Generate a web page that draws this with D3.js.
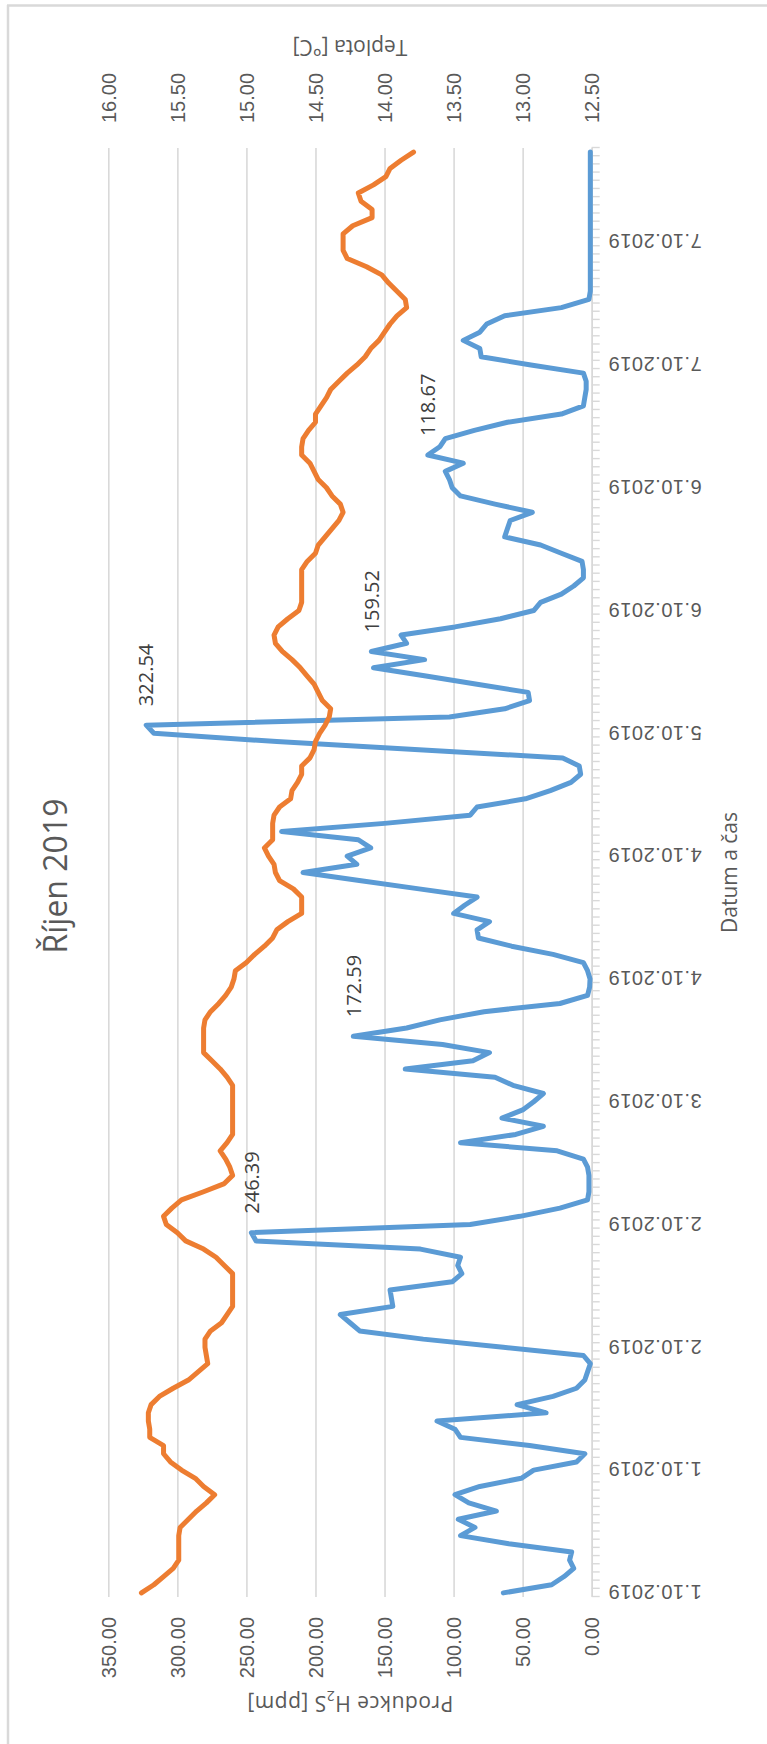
<!DOCTYPE html>
<html>
<head>
<meta charset="utf-8">
<script src="https://cdn.jsdelivr.net/npm/d3@7"></script>
<style>
  html, body { margin: 0; padding: 0; background: #fff; }
  svg { display: block; font-family: "Open Sans", "Noto Sans", sans-serif; }
</style>
</head>
<body>
<svg id="chart" width="767" height="1744"></svg>
<script>
// H2S production [ppm], one value per reading
const h2s = [
  64, 29, 20, 13, 16, 14.5, 60, 95, 84.5, 96.6,
  69, 89, 99, 81, 51, 42, 11, 5, 45, 95,
  99, 112, 33, 54, 28, 11, 5, 3, 1, 6,
  64, 122, 168, 175, 182, 144, 145, 146, 101, 94,
  97, 95, 124, 243, 246.39, 88, 52, 23, 3, 2,
  2, 2, 3, 6, 25, 95, 55, 35, 65, 50,
  42, 35, 57, 70, 135, 86, 74, 108, 172.59, 134,
  110, 78, 23, 3, 1.5, 1.2, 3, 6, 28, 58,
  82, 83, 74, 100, 92, 83, 125, 167, 209, 170,
  177, 160, 169, 224.5, 150, 88, 83, 48, 30, 15,
  8, 9, 21, 125, 228, 317, 322.54, 103, 63, 45,
  46, 83, 120, 158, 121, 159.52, 134, 138, 99, 66,
  42, 37, 22, 13, 6, 6, 7, 22, 37, 63,
  61, 59, 43, 70, 95, 101, 103, 106, 93, 118.67,
  110, 106, 85, 61, 22, 6, 5, 4, 4, 6,
  44, 80, 81, 93, 81, 76, 63, 22, 2, 1,
  1, 1, 1, 1, 1, 1, 1, 1, 1, 1,
  1, 1, 1, 1, 1, 1, 1
];

// temperature [°C]
const teplota = [
  15.76, 15.67, 15.60, 15.53, 15.49, 15.49, 15.49, 15.49, 15.48, 15.42,
  15.36, 15.29, 15.23, 15.31, 15.37, 15.47, 15.55, 15.60, 15.60, 15.70,
  15.70, 15.71, 15.71, 15.69, 15.63, 15.53, 15.42, 15.35, 15.28, 15.29,
  15.30, 15.30, 15.26, 15.18, 15.14, 15.10, 15.10, 15.10, 15.10, 15.10,
  15.16, 15.22, 15.31, 15.44, 15.50, 15.58, 15.60, 15.54, 15.47, 15.31,
  15.16, 15.10, 15.12, 15.15, 15.19, 15.14, 15.10, 15.10, 15.10, 15.10,
  15.10, 15.10, 15.10, 15.14, 15.19, 15.25, 15.31, 15.31, 15.31, 15.31,
  15.30, 15.26, 15.20, 15.15, 15.11, 15.09, 15.08, 15.00, 14.94, 14.87,
  14.81, 14.78, 14.70, 14.60, 14.60, 14.60, 14.66, 14.76, 14.79, 14.80,
  14.84, 14.87, 14.81, 14.81, 14.81, 14.80, 14.76, 14.68, 14.67, 14.63,
  14.60, 14.60, 14.54, 14.51, 14.50, 14.47, 14.43, 14.40, 14.39, 14.45,
  14.48, 14.51, 14.56, 14.61, 14.67, 14.74, 14.79, 14.80, 14.77, 14.70,
  14.62, 14.60, 14.60, 14.60, 14.60, 14.60, 14.56, 14.50, 14.48, 14.43,
  14.38, 14.33, 14.30, 14.32, 14.38, 14.42, 14.48, 14.51, 14.54, 14.60,
  14.60, 14.59, 14.55, 14.50, 14.50, 14.46, 14.42, 14.39, 14.33, 14.27,
  14.20, 14.14, 14.10, 14.04, 14.00, 13.96, 13.91, 13.84, 13.85, 13.91,
  13.97, 14.02, 14.13, 14.27, 14.30, 14.30, 14.30, 14.23, 14.09, 14.09,
  14.17, 14.19, 14.08, 13.99, 13.96, 13.88, 13.79
];

// category labels, shown on every 15th reading
const dateLabels = [
  '1.10.2019', '1.10.2019', '2.10.2019', '2.10.2019', '3.10.2019', '4.10.2019',
  '4.10.2019', '5.10.2019', '6.10.2019', '6.10.2019', '7.10.2019', '7.10.2019'
];
const labelEvery = 15;
const h2sTicks = [0, 50, 100, 150, 200, 250, 300, 350];
const tempTicks = [12.5, 13, 13.5, 14, 14.5, 15, 15.5, 16];
// readings that carry a value label
const labelled = [44, 68, 106, 115, 139];

const n = h2s.length;
const cats = d3.range(n);

// the chart is laid out landscape (1744 x 767) and turned a quarter left
const W = 1744;
const plot = { left: 147, right: 1596, top: 108.3, bottom: 591.7 };
const textCol = '#595959';

const svg = d3.select('#chart');
svg.append('line').attr('x1', 7).attr('x2', 767).attr('y1', 5.5).attr('y2', 5.5)
  .attr('stroke', '#d9d9d9').attr('stroke-width', 2.5);
svg.append('line').attr('x1', 8).attr('x2', 8).attr('y1', 5).attr('y2', 1744)
  .attr('stroke', '#d9d9d9').attr('stroke-width', 2.5);

const g = svg.append('g').attr('transform', `translate(0,${W}) rotate(-90)`);

const x = d3.scalePoint().domain(cats).range([plot.left, plot.right]).padding(0.5);
const xEdge = d3.scaleLinear().domain([0, n]).range([plot.left, plot.right]);
const yL = d3.scaleLinear().domain([0, 350]).range([plot.bottom, plot.top]);
const yR = d3.scaleLinear().domain([12.5, 16]).range([plot.bottom, plot.top]);

// gridlines
const grid = g.append('g').attr('transform', `translate(${plot.left},0)`)
  .call(d3.axisLeft(yL).tickValues(h2sTicks).tickSize(-(plot.right - plot.left)).tickFormat(''));
grid.select('.domain').remove();
grid.selectAll('line').attr('stroke', '#d9d9d9').attr('stroke-width', 1.6);

// left axis labels
const axL = g.append('g').attr('transform', `translate(${plot.left},0)`)
  .call(d3.axisLeft(yL).tickValues(h2sTicks).tickSize(0).tickPadding(20).tickFormat(d3.format('.2f')));
axL.select('.domain').remove();
axL.selectAll('text').attr('fill', textCol).style('font-size', '20px').attr('dy', '0.36em');

// right axis labels
const axR = g.append('g').attr('transform', `translate(${plot.right},0)`)
  .call(d3.axisRight(yR).tickValues(tempTicks).tickSize(0).tickPadding(25).tickFormat(d3.format('.2f')));
axR.select('.domain').remove();
axR.selectAll('text').attr('fill', textCol).style('font-size', '20px').attr('dy', '0.36em');

// category axis: a tick between every reading
const axTicks = g.append('g').attr('transform', `translate(0,${plot.bottom})`)
  .call(d3.axisBottom(xEdge).tickValues(d3.range(n + 1)).tickSize(8).tickSizeOuter(0).tickFormat(''));
axTicks.selectAll('line, path').attr('stroke', '#d9d9d9').attr('stroke-width', 1.4);

const axX = g.append('g').attr('transform', `translate(0,${plot.bottom})`)
  .call(d3.axisBottom(x)
    .tickValues(cats.filter(i => i % labelEvery === 0))
    .tickSize(0)
    .tickFormat(i => dateLabels[i / labelEvery]));
axX.select('.domain').remove();
axX.selectAll('text')
  .attr('fill', textCol).style('font-size', '20px').style('letter-spacing', '0.5px')
  .attr('y', 0).attr('dy', '0.36em')
  .attr('text-anchor', 'end')
  .attr('transform', 'translate(0,16.5) rotate(-90)');

// series
const lineH2s = d3.line().x((d, i) => x(i)).y(d => yL(d));
const lineTemp = d3.line().x((d, i) => x(i)).y(d => yR(d));

g.append('path').datum(h2s)
  .attr('d', lineH2s)
  .attr('fill', 'none').attr('stroke', '#5b9bd5').attr('stroke-width', 5)
  .attr('stroke-linejoin', 'round').attr('stroke-linecap', 'round');

g.append('path').datum(teplota)
  .attr('d', lineTemp)
  .attr('fill', 'none').attr('stroke', '#ed7d31').attr('stroke-width', 5)
  .attr('stroke-linejoin', 'round').attr('stroke-linecap', 'round');

// value labels
g.append('g').selectAll('text').data(labelled).join('text')
  .attr('x', i => x(i) + 19)
  .attr('y', i => yL(h2s[i]))
  .attr('dy', '0.36em')
  .attr('fill', '#404040')
  .style('font-size', '20px')
  .text(i => d3.format('.2f')(h2s[i]));

// titles
g.append('text')
  .attr('x', 868).attr('y', 67)
  .attr('text-anchor', 'middle')
  .attr('fill', textCol).style('font-size', '32px')
  .text('Říjen 2019');

const tL = g.append('text')
  .attr('transform', `translate(48,${(plot.top + plot.bottom) / 2}) rotate(-90)`)
  .attr('text-anchor', 'middle')
  .attr('fill', textCol).style('font-size', '21px').style('letter-spacing', '0.5px');
tL.append('tspan').text('Produkce H');
tL.append('tspan').attr('dy', 5).style('font-size', '14px').text('2');
tL.append('tspan').attr('dy', -5).text('S [ppm]');

g.append('text')
  .attr('transform', `translate(1704,${(plot.top + plot.bottom) / 2}) rotate(-90)`)
  .attr('text-anchor', 'middle')
  .attr('fill', textCol).style('font-size', '21px')
  .text('Teplota [°C]');

g.append('text')
  .attr('x', (plot.left + plot.right) / 2).attr('y', 737)
  .attr('text-anchor', 'middle')
  .attr('fill', textCol).style('font-size', '21px')
  .text('Datum a čas');
</script>
</body>
</html>
